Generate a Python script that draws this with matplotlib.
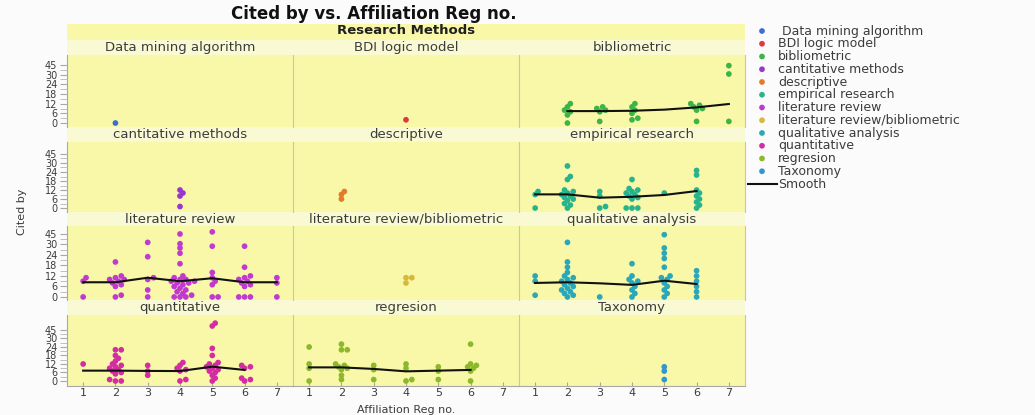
import numpy as np
import matplotlib
matplotlib.use("Agg")
import matplotlib.pyplot as plt

# ---------------- data ----------------
categories = ["Data mining algorithm", "BDI logic model", "bibliometric",
              "cantitative methods", "descriptive", "empirical research",
              "literature review", "literature review/bibliometric", "qualitative analysis",
              "quantitative", "regresion", "Taxonomy"]
colors = ["#3b6fd6", "#e0383c", "#3cb447", "#9a35cf", "#e07c2a", "#27b38c",
          "#c13ad0", "#d6b83a", "#2aa8ba", "#d42ca2", "#8db82c", "#3496cf"]

y_levels = [0, 6, 12, 18, 24, 30, 45]
x_ticks = [1, 2, 3, 4, 5, 6, 7]

dm_x = [2]
dm_y = [[0]]
bdi_x = [4]
bdi_y = [[2]]
bib_x = [2, 3, 4, 6, 7]
bib_y = [[12, 10, 8, 7, 5, 0], [10, 9, 8, 7, 1], [12, 10, 8, 6, 3, 2],
         [12, 11, 10, 9, 8, 1], [44, 31, 1]]
bib_smooth_x = [2, 3, 4, 5, 6, 7]
bib_smooth_y = [7.4, 7.4, 7.6, 8.3, 9.7, 11.8]
cant_x = [4]
cant_y = [[12, 10, 8, 1]]
desc_x = [2]
desc_y = [[11, 9, 6]]
emp_x = [1, 2, 3, 4, 5, 6]
emp_y = [[11, 9, 0], [28, 21, 19, 12, 11, 10, 9, 8, 7, 6, 5, 3, 2, 0], [11, 8, 1, 0],
         [19, 13, 12, 11, 10, 9, 8, 7, 6, 0, 0, 0], [10], [25, 22, 12, 10, 8, 6, 4, 2, 0]]
emp_smooth_x = [1, 2, 3, 4, 5, 6]
emp_smooth_y = [9.1, 9.1, 6.9, 7.5, 8.7, 11.3]
lit_x = [1, 2, 3, 4, 5, 6, 7]
lit_y = [[11, 9, 0], [20, 12, 11, 10, 10, 9, 8, 7, 6, 1, 0], [33, 23, 11, 10, 4, 0],
         [45, 31, 28, 25, 19, 12, 11, 10, 10, 9, 9, 8, 8, 7, 6, 5, 4, 3, 2, 1, 0, 0, 0],
         [48, 29, 14, 11, 9, 7, 0, 0], [29, 17, 12, 11, 10, 9, 8, 7, 6, 0, 0, 0], [11, 8, 0]]
lit_smooth_x = [1, 2, 3, 4, 5, 6, 7]
lit_smooth_y = [8.4, 8.4, 11.0, 9.0, 10.7, 8.4, 8.4]
litbib_x = [4]
litbib_y = [[11, 11, 8]]
qual_x = [1, 2, 3, 4, 5, 6]
qual_y = [[12, 9, 1], [33, 20, 17, 14, 12, 11, 10, 9, 8, 7, 6, 5, 4, 3, 2, 1, 0], [0],
          [19, 12, 10, 9, 8, 6, 4, 2, 0], [44, 28, 25, 22, 17, 12, 11, 10, 8, 6, 4, 2, 0],
          [15, 12, 9, 6, 3, 0]]
qual_smooth_x = [1, 2, 3, 4, 5, 6]
qual_smooth_y = [8.0, 8.4, 7.8, 6.9, 9.3, 7.4]
quant_x = [1, 2, 3, 4, 5, 6]
quant_y = [[12], [22, 22, 18, 16, 14, 12, 11, 10, 9, 8, 7, 6, 5, 1, 0, 0], [11, 7, 4],
           [13, 11, 9, 8, 7, 1, 0], [57, 52, 23, 18, 13, 12, 11, 10, 9, 8, 7, 6, 4, 2, 0],
           [11, 10, 9, 2, 1, 0]]
quant_smooth_x = [1, 2, 3, 4, 5, 6]
quant_smooth_y = [7.3, 7.3, 7.1, 7.0, 10.1, 7.8]
reg_x = [1, 2, 3, 4, 5, 6]
reg_y = [[24, 12, 9, 0], [26, 22, 22, 12, 11, 10, 9, 8, 4, 1], [11, 8, 1], [12, 9, 1, 0],
         [10, 7, 1], [26, 12, 11, 10, 9, 7, 0]]
reg_smooth_x = [1, 2, 3, 4, 5, 6]
reg_smooth_y = [9.6, 9.6, 8.5, 6.8, 7.3, 7.8]
tax_x = [5]
tax_y = [[10, 7, 1]]

panel_points = [(dm_x, dm_y), (bdi_x, bdi_y), (bib_x, bib_y),
                (cant_x, cant_y), (desc_x, desc_y), (emp_x, emp_y),
                (lit_x, lit_y), (litbib_x, litbib_y), (qual_x, qual_y),
                (quant_x, quant_y), (reg_x, reg_y), (tax_x, tax_y)]
panel_smooth = [None, None, (bib_smooth_x, bib_smooth_y),
                None, None, (emp_smooth_x, emp_smooth_y),
                (lit_smooth_x, lit_smooth_y), None, (qual_smooth_x, qual_smooth_y),
                (quant_smooth_x, quant_smooth_y), (reg_smooth_x, reg_smooth_y), None]

# ---------------- y scale (ordinal-like, evenly spaced labels) ----------------
lev = np.array(y_levels, float)
idx = np.arange(len(lev), dtype=float)


def fwd(v):
    v = np.asarray(v, float)
    out = np.interp(v, lev, idx)
    out = np.where(v > lev[-1], idx[-1] + (v - lev[-1]) / 15.0, out)
    out = np.where(v < 0, v / 6.0, out)
    return out


def inv(i):
    i = np.asarray(i, float)
    out = np.interp(i, idx, lev)
    out = np.where(i > idx[-1], lev[-1] + (i - idx[-1]) * 15.0, out)
    out = np.where(i < 0, i * 6.0, out)
    return out


# ---------------- layout ----------------
W, H = 1035, 415
fig = plt.figure(figsize=(W / 100, H / 100), dpi=100)
fig.patch.set_facecolor("#fbfbfb")


def rect(x0, y0, x1, y1):
    return [x0 / W, 1 - y1 / H, (x1 - x0) / W, (y1 - y0) / H]


FONT = "DejaVu Sans"
TXT = "#3c3c3c"
YEL = "#f8f8a8"
STRIP = "#f9f9d3"
GRID = "#c4c4c4"

col_x = [(67, 293), (293, 519), (519, 745)]
row_plot = [(55, 127), (142, 212), (226, 300), (315, 386)]
row_strip = [(40, 55), (127, 142), (212, 226), (300, 315)]
row_ylim = [(-0.41, 7.03), (-0.44, 7.33), (-0.29, 6.76), (-0.59, 7.76)]

# background yellow area
bg = fig.add_axes(rect(67, 24, 745, 386))
bg.set_xlim(0, 1); bg.set_ylim(0, 1)
bg.set_facecolor(YEL)
for s in bg.spines.values():
    s.set_visible(False)
bg.set_xticks([]); bg.set_yticks([])
bg.set_zorder(0)

fig.text(406 / W, 1 - 31 / H, "Research Methods", ha="center", va="center",
         fontsize=9.5, fontweight="bold", color="#202020", family="DejaVu Sans")
fig.text(374 / W, 1 - 14 / H, "Cited by vs. Affiliation Reg no.", ha="center",
         va="center", fontsize=12, fontweight="bold", color="#111111", family="DejaVu Sans")

# strips
for r, (s0, s1) in enumerate(row_strip):
    for c, (x0, x1) in enumerate(col_x):
        sa = fig.add_axes(rect(x0, s0, x1, s1))
        sa.set_facecolor(STRIP)
        sa.set_xticks([]); sa.set_yticks([])
        for s in sa.spines.values():
            s.set_visible(False)
        sa.text(0.5, 0.5, categories[r * 3 + c], ha="center", va="center",
                fontsize=9.5, color=TXT, family=FONT, transform=sa.transAxes)

minor_idx = np.arange(0, 6.01, 0.5)
minor_idx = minor_idx[(minor_idx % 1) != 0]

for r in range(4):
    for c in range(3):
        k = r * 3 + c
        x0, x1 = col_x[c]
        y0, y1 = row_plot[r]
        ax = fig.add_axes(rect(x0, y0, x1, y1))
        ax.set_facecolor("none")
        ax.set_yscale("function", functions=(fwd, inv))
        ax.set_xlim(0.5, 7.5)
        ax.set_ylim(float(inv(row_ylim[r][0])), float(inv(row_ylim[r][1])))

        xs_list, ys_list = panel_points[k]
        px, py = [], []
        for xv, yvals in zip(xs_list, ys_list):
            placed = []
            for yv in sorted(yvals):
                yi = float(fwd(yv))
                offs = [0.0]
                for m in range(1, 12):
                    offs += [m * 0.09, -m * 0.09]
                for o in offs:
                    ok = True
                    for (po, pi) in placed:
                        dx = (o - po) * 32.0
                        dy = (yi - pi) * 9.5
                        if dx * dx + dy * dy < 3.4 ** 2:
                            ok = False
                            break
                    if ok:
                        placed.append((o, yi))
                        px.append(xv + o)
                        py.append(yv)
                        break
        ax.scatter(px, py, s=17, color=colors[k], edgecolors="none", zorder=3)

        if panel_smooth[k] is not None:
            sx, sy = panel_smooth[k]
            ax.plot(sx, sy, color="#111111", lw=1.5, zorder=4)

        ax.spines["top"].set_visible(False)
        ax.spines["right"].set_color(GRID)
        ax.spines["right"].set_linewidth(0.8)
        ax.spines["left"].set_visible(c == 0)
        ax.spines["left"].set_color("#a8a8a8")
        ax.spines["bottom"].set_visible(r == 3)
        ax.spines["bottom"].set_color("#a8a8a8")

        if c == 0:
            ax.set_yticks(y_levels)
            ax.set_yticklabels([str(v) for v in y_levels], fontsize=7, color=TXT,
                               family=FONT)
            ax.set_yticks(list(inv(minor_idx)), minor=True)
            ax.tick_params(axis="y", which="major", length=5, color="#a8a8a8", pad=2)
            ax.tick_params(axis="y", which="minor", length=5, color="#b8b8b8")
        else:
            ax.set_yticks([])
            ax.set_yticks([], minor=True)
        if r == 3:
            ax.set_xticks(x_ticks)
            ax.set_xticklabels([str(v) for v in x_ticks], fontsize=8, color=TXT,
                               family=FONT)
            ax.tick_params(axis="x", length=3, direction="in", color="#a8a8a8", pad=1.5)
        else:
            ax.set_xticks([])

# axis titles
fig.text(22 / W, 1 - 212 / H, "Cited by", rotation=90, ha="center", va="center",
         fontsize=8, color=TXT, family=FONT)
fig.text(406 / W, 1 - 414.5 / H, "Affiliation Reg no.", ha="center", va="bottom",
         fontsize=8, color=TXT, family=FONT)

# legend
lg = fig.add_axes(rect(745, 22, 1035, 192))
lg.set_xlim(745, 1035)
lg.set_ylim(192, 22)
lg.axis("off")
for i, (cat, col) in enumerate(zip(categories, colors)):
    yy = 31 + 12.75 * i
    lg.scatter([762], [yy], s=17, color=col, edgecolors="none")
    lab = (" " + cat) if i == 0 else cat
    lg.text(778, yy, lab, ha="left", va="center", fontsize=9, color=TXT, family=FONT)
yy = 31 + 12.75 * 12
lg.plot([748, 777], [yy, yy], color="#111111", lw=1.5)
lg.text(778, yy, "Smooth", ha="left", va="center", fontsize=9, color=TXT, family=FONT)

fig.savefig("out.png", dpi=100, facecolor=fig.get_facecolor())
